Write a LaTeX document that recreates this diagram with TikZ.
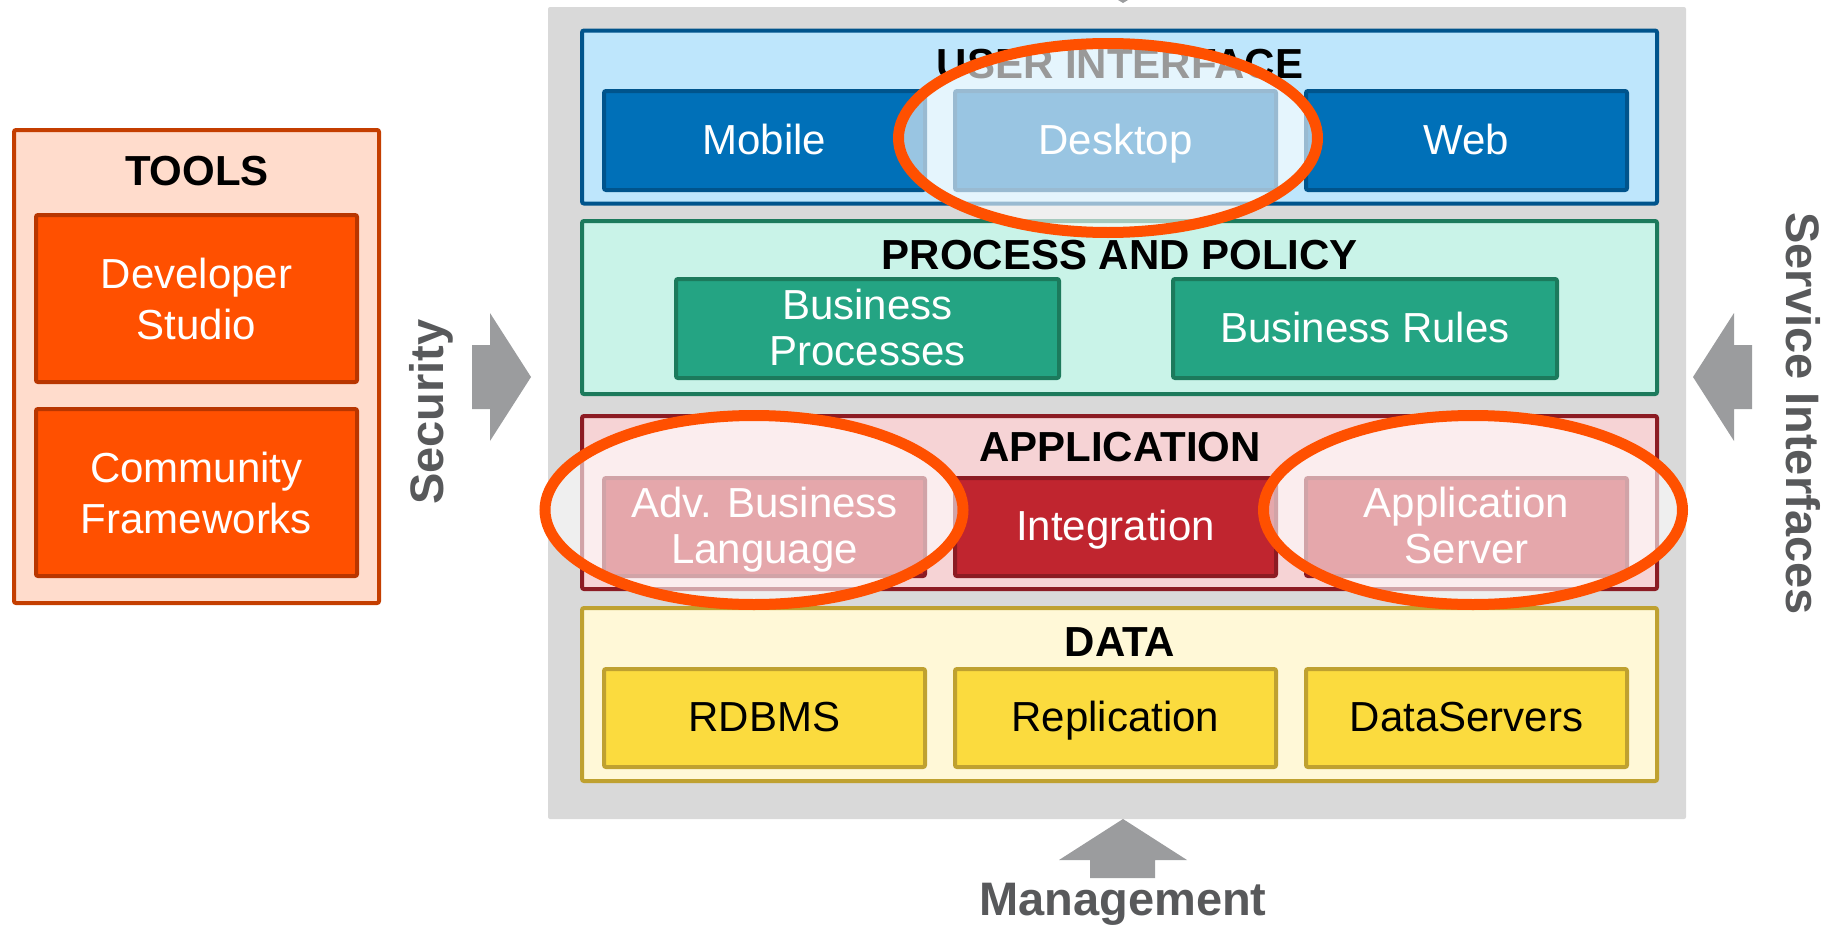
\documentclass[tikz,border=0pt]{standalone}
\usepackage{fontspec}
\setmainfont{Liberation Sans}

% palette
\definecolor{panelgrey}{RGB}{217,217,217}
\definecolor{uiline}{RGB}{0,84,140}
\definecolor{uifill}{RGB}{190,230,252}
\definecolor{uibox}{RGB}{0,112,184}
\definecolor{ppline}{RGB}{28,122,92}
\definecolor{ppfill}{RGB}{201,243,232}
\definecolor{ppbox}{RGB}{36,164,131}
\definecolor{apline}{RGB}{140,27,35}
\definecolor{apfill}{RGB}{246,211,213}
\definecolor{apbox}{RGB}{192,37,47}
\definecolor{dtline}{RGB}{191,161,48}
\definecolor{dtfill}{RGB}{255,248,215}
\definecolor{dtbox}{RGB}{251,219,62}
\definecolor{tlline}{RGB}{196,62,0}
\definecolor{tlfill}{RGB}{255,220,204}
\definecolor{tlbox}{RGB}{255,80,0}
\definecolor{tlboxline}{RGB}{184,54,0}
\definecolor{ringorange}{RGB}{255,80,0}
\definecolor{arrowgrey}{RGB}{155,156,158}
\definecolor{sidetext}{RGB}{88,89,91}

% one line of box text with a fixed height and depth
\newcommand\mline[1]{\smash{#1}\rule[-3pt]{0pt}{33pt}}
% same for the taller tool boxes
\newcommand\tline[1]{\smash{#1}\rule[-1pt]{0pt}{33pt}}

\tikzset{
  layer/.style={draw, line width=4pt, rounded corners=2pt, inner sep=0pt,
    minimum width=1075pt, minimum height=173pt},
  unit/.style={draw, line width=4pt, rounded corners=2pt, inner sep=0pt,
    align=center, text=white, font=\fontsize{42pt}{46pt}\selectfont},
  uiunit/.style={unit, fill=uibox, draw=uiline, minimum width=321pt, minimum height=99pt},
  ppunit/.style={unit, fill=ppbox, draw=ppline, minimum width=384pt, minimum height=99pt},
  apunit/.style={unit, fill=apbox, draw=apline, minimum width=321pt, minimum height=98pt},
  dtunit/.style={unit, fill=dtbox, draw=dtline, text=black, minimum width=321pt, minimum height=98pt},
  tlunit/.style={unit, fill=tlbox, draw=tlboxline, minimum width=321pt, minimum height=167pt,
    font=\fontsize{42pt}{51pt}\selectfont},
  heading/.style={anchor=base, inner sep=0pt, font=\bfseries\fontsize{42pt}{46pt}\selectfont},
  sidelabel/.style={anchor=base, inner sep=0pt, text=sidetext,
    font=\bfseries\fontsize{47pt}{50pt}\selectfont},
  bigarrow/.style={fill=arrowgrey},
  ring/.style={fill=white, fill opacity=0.6, draw=ringorange, line width=11pt},
}

\begin{document}
\begin{tikzpicture}[x=1pt, y=-1pt]
  \useasboundingbox (0,0) rectangle (1832,926);

  % ---------- tools column ----------
  \node[draw=tlline, fill=tlfill, line width=4pt, rounded corners=2pt, inner sep=0pt,
        minimum width=365pt, minimum height=473pt] (tools) at (196.5,366.5) {};
  \node[heading] (toolsT) at (197,185) {TOOLS};
  \node[tlunit] (devstudio) at (196.5,298.5) {\tline{Developer}\\\tline{Studio}};
  \node[tlunit] (community) at (196.5,492.5) {\tline{Community}\\\tline{Frameworks}};

  % ---------- stack backdrop ----------
  \node[fill=panelgrey, inner sep=0pt, rounded corners=2pt,
        minimum width=1138pt, minimum height=812pt] (panel) at (1117,413) {};

  % user interface layer
  \node[layer, draw=uiline, fill=uifill] (ui) at (1119.5,117) {};
  \node[heading] (uiT) at (1120,78) {USER INTERFACE};
  \node[uiunit] (mobile)  at (764.5,140.5)  {\mline{Mobile}};
  \node[uiunit] (desktop) at (1115.5,140.5) {\mline{Desktop}};
  \node[uiunit] (web)     at (1466.5,140.5) {\mline{Web}};

  % process and policy layer
  \node[layer, draw=ppline, fill=ppfill] (pp) at (1119.5,307.5) {};
  \node[heading] (ppT) at (1120,269) {PROCESS AND POLICY};
  \node[ppunit, minimum width=383pt] (bproc) at (867.5,328.5) {\mline{Business}\\\mline{Processes}};
  \node[ppunit] (brules) at (1365,328.5) {\mline{Business Rules}};

  % application layer
  \node[layer, draw=apline, fill=apfill] (app) at (1119.5,502.5) {};
  \node[heading] (appT) at (1120,461) {APPLICATION};
  \node[apunit] (advbl)  at (764.5,527)  {\mline{Adv. Business}\\\mline{Language}};
  \node[apunit] (integ)  at (1115.5,527) {\mline{Integration}};
  \node[apunit] (appsrv) at (1466.5,527) {\mline{Application}\\\mline{Server}};

  % data layer
  \node[layer, draw=dtline, fill=dtfill] (data) at (1119.5,694.5) {};
  \node[heading] (dataT) at (1120,656) {DATA};
  \node[dtunit] (rdbms) at (764.5,718)  {\mline{RDBMS}};
  \node[dtunit] (repl)  at (1115.5,718) {\mline{Replication}};
  \node[dtunit] (dsrv)  at (1466.5,718) {\mline{DataServers}};

  % ---------- highlight rings ----------
  \path[ring] (1108,138) ellipse [x radius=209.5, y radius=94.5];
  \path[ring] (754,510)  ellipse [x radius=209, y radius=94.5];
  \path[ring] (1473,510) ellipse [x radius=209.5, y radius=94.5];

  % ---------- cross-cutting concerns ----------
  \coordinate (secTip) at (531,377);
  \fill[bigarrow] (472,345) -- (490,345) -- (490,313) -- (secTip)
                  -- (490,441) -- (490,409) -- (472,409) -- cycle;
  \node[sidelabel, rotate=90] (security) at (443,412) {Security};

  \coordinate (svcTip) at (1693,377);
  \fill[bigarrow] (1752,345) -- (1734,345) -- (1734,313) -- (svcTip)
                  -- (1734,441) -- (1734,409) -- (1752,409) -- cycle;
  \node[sidelabel, rotate=-90] (service) at (1786,413.5) {Service Interfaces};

  \coordinate (mgmtTip) at (1123,819);
  \fill[bigarrow] (mgmtTip) -- (1187,860) -- (1155,860) -- (1155,878)
                  -- (1090,878) -- (1090,860) -- (1059,860) -- cycle;
  \node[sidelabel] (mgmt) at (1123,915) {Management};

  % point of an arrow entering from above
  \coordinate (topTip) at (1123,3);
  \fill[bigarrow] (1118,0) -- (1128,0) -- (topTip) -- cycle;
\end{tikzpicture}
\end{document}
